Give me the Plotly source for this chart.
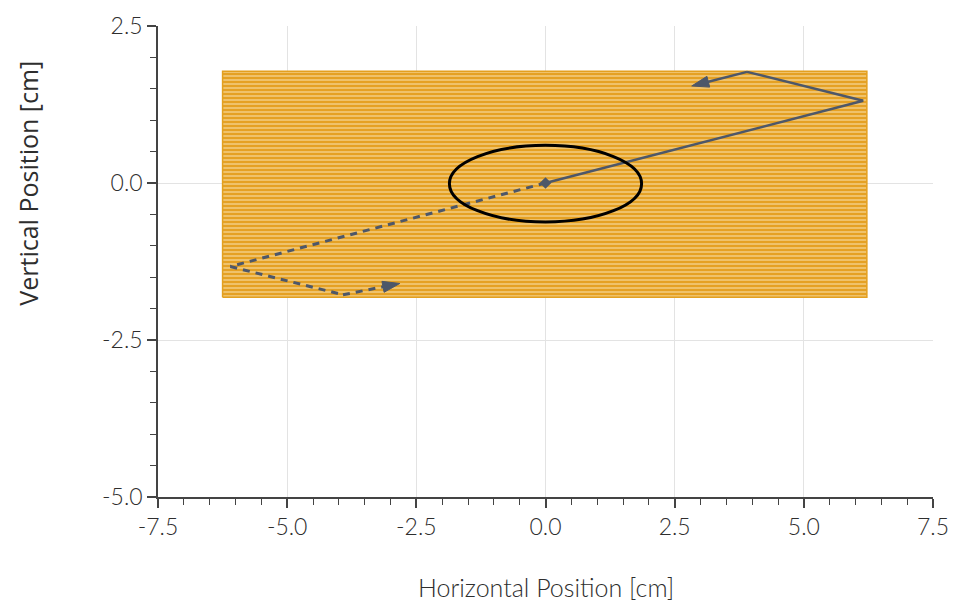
import plotly.graph_objects as go

# Scan area (rectangle corners, cm)
area_x = [-6.25, 6.22, 6.22, -6.25, -6.25]
area_y = [-1.82, -1.82, 1.78, 1.78, -1.82]

# Solid path (cm)
solid_x = [0.0, 6.15, 3.9, 2.83]
solid_y = [0.0, 1.31, 1.77, 1.545]

# Dashed path (cm)
dash_x = [0.0, -6.1, -3.92, -2.82]
dash_y = [0.0, -1.33, -1.78, -1.6]

# Ellipse bounds (cm)
ell_x = [-1.86, 1.86]
ell_y = [-0.62, 0.6]

# Center point
center_x = [0.0]
center_y = [0.0]

line_col = "#4D5769"
orange = "#E5A124"

fig = go.Figure()

fig.add_trace(go.Scatter(
    x=area_x, y=area_y, mode="lines", fill="toself",
    fillcolor=orange,
    fillpattern=dict(shape="-", fgcolor="#FCEBC2", bgcolor=orange, size=4, solidity=0.45),
    line=dict(color="#E3A020", width=1.5),
    hoverinfo="skip", showlegend=False))

fig.add_trace(go.Scatter(
    x=dash_x, y=dash_y, mode="lines+markers",
    line=dict(color=line_col, width=3, dash="7px,6px"),
    marker=dict(symbol="arrow", angleref="previous", opacity=1,
                size=[0, 0, 0, 18], color=line_col,
                line=dict(width=1, color=line_col)),
    showlegend=False))

fig.add_trace(go.Scatter(
    x=solid_x, y=solid_y, mode="lines+markers",
    line=dict(color=line_col, width=2.5),
    marker=dict(symbol="arrow", angleref="previous", opacity=1,
                size=[0, 0, 0, 18], color=line_col,
                line=dict(width=1, color=line_col)),
    showlegend=False))

fig.add_trace(go.Scatter(
    x=center_x, y=center_y, mode="markers",
    marker=dict(symbol="diamond", size=9, color=line_col),
    showlegend=False))

fig.add_shape(type="circle", xref="x", yref="y",
              x0=ell_x[0], x1=ell_x[1], y0=ell_y[0], y1=ell_y[1],
              line=dict(color="black", width=3))

font_fam = "Lato, 'Open Sans', sans-serif"
txt_col = "#2E2E2E"

fig.update_layout(
    width=968, height=603,
    margin=dict(l=158, r=35, t=26, b=106),
    plot_bgcolor="white", paper_bgcolor="white",
    font=dict(family=font_fam, size=23, color=txt_col, weight=300),
    xaxis=dict(
        range=[-7.5, 7.5], tickvals=[-7.5, -5.0, -2.5, 0.0, 2.5, 5.0, 7.5],
        ticktext=["-7.5", "-5.0", "-2.5", "0.0", "2.5", "5.0", "7.5"],
        ticks="outside", ticklen=9, tickwidth=1.5, tickcolor="#444",
        showline=True, linecolor="#444", linewidth=1.5,
        showgrid=True, gridcolor="#E3E3E3", gridwidth=1, zeroline=False,
        minor=dict(dtick=0.5, tick0=0, ticks="outside", ticklen=6, tickwidth=1.2,
                   tickcolor="#444", showgrid=False),
        automargin=False,
        tickfont=dict(size=23, weight=300),
    ),
    yaxis=dict(
        range=[-5.0, 2.5], tickvals=[-5.0, -2.5, 0.0, 2.5],
        ticktext=["-5.0", "-2.5", "0.0", "2.5"],
        ticks="outside", ticklen=9, tickwidth=1.5, tickcolor="#444",
        showline=True, linecolor="#444", linewidth=1.5,
        showgrid=True, gridcolor="#E3E3E3", gridwidth=1, zeroline=False,
        minor=dict(dtick=0.5, tick0=0, ticks="outside", ticklen=6, tickwidth=1.2,
                   tickcolor="#444", showgrid=False),
        automargin=False,
        tickfont=dict(size=23, weight=300),
    ),
    annotations=[
        dict(text="Vertical Position [cm]", textangle=-90,
             xref="paper", yref="paper", x=-0.168, y=0.667,
             xanchor="center", yanchor="middle", showarrow=False,
             font=dict(size=25, color=txt_col, family="'Open Sans', sans-serif", weight=400)),
        dict(text="Horizontal Position [cm]",
             xref="paper", yref="paper", x=0.5, y=-0.191,
             xanchor="center", yanchor="middle", showarrow=False,
             font=dict(size=25, color=txt_col, weight=300)),
    ],
)

fig.write_html("out.html")
